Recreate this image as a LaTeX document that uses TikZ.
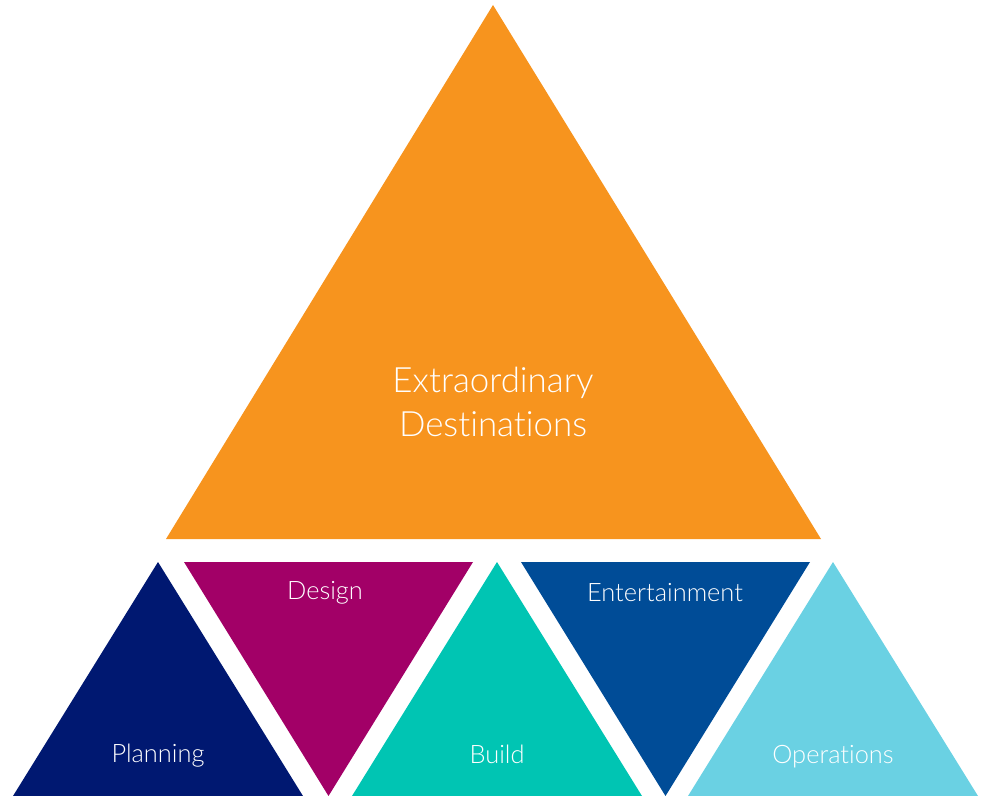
\documentclass[tikz,border=0pt]{standalone}
\usepackage{fontspec}
\setmainfont{Lato}[UprightFont={* Light},Ligatures={NoCommon}]
\usepackage{tikz}
\usetikzlibrary{positioning,calc}

\definecolor{destorange}{RGB}{247,148,30}
\definecolor{plannavy}{RGB}{0,24,113}
\definecolor{designmagenta}{RGB}{162,0,103}
\definecolor{buildteal}{RGB}{0,197,179}
\definecolor{entblue}{RGB}{0,76,151}
\definecolor{opslight}{RGB}{106,209,227}

\begin{document}
\begin{tikzpicture}[x=1bp,y=-1bp,
    biglabel/.style={text=white,font=\fontsize{35}{44}\selectfont,align=center},
    smalllabel/.style={text=white,font=\fontsize{25.5}{28}\selectfont,anchor=base}]
      \useasboundingbox (0,0) rectangle (984,796);
      % Top triangle
      \fill[destorange] (493,5) -- (821,539) -- (166,539) -- cycle;
      \node[biglabel,anchor=base] (dest) at (493,436) {Extraordinary\\Destinations};
      % Bottom row, pointing up
      \fill[plannavy] (158,562) -- (303,796) -- (13,796) -- cycle;
      \fill[buildteal] (497,562) -- (642,796) -- (352,796) -- cycle;
      \fill[opslight] (833,562) -- (978,796) -- (688,796) -- cycle;
      % Bottom row, pointing down
      \fill[designmagenta] (184,562) -- (473,562) -- (328.5,796) -- cycle;
      \fill[entblue] (521,562) -- (810,562) -- (665.5,796) -- cycle;
      % Labels
      \node[smalllabel] (plan) at (158,762) {Planning};
      \node[smalllabel] (design) at (325,599) {Design};
      \node[smalllabel] (build) at (497,763) {Build};
      \node[smalllabel] (ent) at (665,601) {Entertainment};
      \node[smalllabel] (ops) at (833,763) {Operations};
    \end{tikzpicture}
\end{document}
